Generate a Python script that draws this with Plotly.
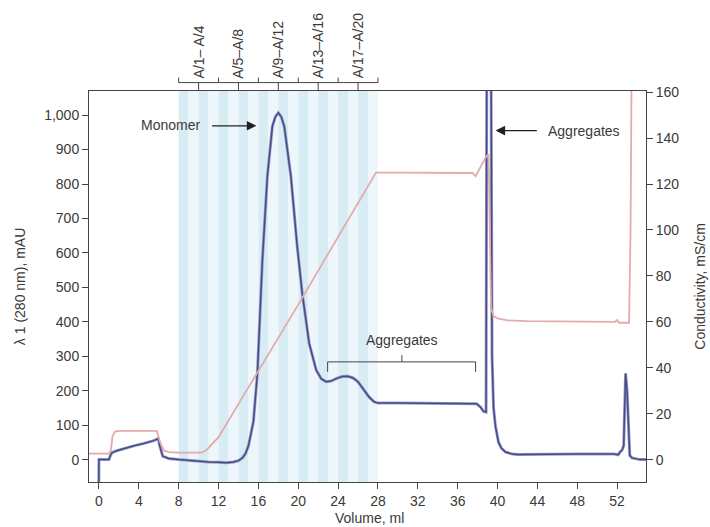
import plotly.graph_objects as go

# ---------------- data ----------------
uv_x = [-0.05, 0.0, 0.3, 1.0, 1.15, 1.3, 1.7, 2.5, 3.5, 4.5, 5.5, 5.95, 6.1, 6.4, 7.0,
        8.0, 9.0, 10.0, 11.0, 12.0, 12.8, 13.5, 14.0, 14.4, 14.7, 15.0, 15.3, 15.5,
        15.9, 16.4, 16.9, 17.4, 17.7, 18.0, 18.3, 18.6, 19.26, 19.9, 20.4, 21.1, 21.8,
        22.3, 22.8, 23.3, 23.8, 24.4, 25.0, 25.5, 26.0, 26.6, 27.1, 27.6, 28.0, 30.0,
        33.0, 36.0, 37.5, 37.9, 38.3, 38.6, 38.85, 38.95, 39.3, 39.45, 39.6, 39.8,
        40.1, 40.4, 40.8, 41.5, 42.0, 44.0, 48.0, 51.7, 52.1, 52.3, 52.5, 52.66,
        52.85, 53.0, 53.27, 53.5, 53.9, 54.3, 55.0]
uv_y = [-200, 0, 0, 0, 12, 20, 25, 32, 40, 47, 55, 61, 40, 10, 3,
        0, -3, -5, -7, -8, -9, -7, -3, 5, 17, 40, 85, 110,
        250, 579, 822, 967, 995, 1007, 995, 967, 822, 618, 483, 337, 260,
        235, 226, 228, 235, 241, 242, 237, 226, 203, 182, 168, 164, 164,
        164, 164, 164, 162, 152, 140, 138, 1600, 1600, 300, 150, 95,
        50, 33, 22, 16, 15, 16, 16, 16, 14, 22, 28, 40,
        250, 200, 12, 5, 2, 0, 0]

cond_x = [-1.0, 1.0, 1.2, 1.35, 1.6, 2.0, 5.8, 6.1, 6.5, 7.0, 8.0, 10.3, 10.8,
          11.3, 12.0, 20.0, 27.8, 30.0, 37.0, 37.5, 37.8, 38.1, 38.5, 38.8,
          39.1, 39.35, 39.6, 40.0, 41.0, 43.0, 51.8, 52.0, 52.2, 53.2, 53.35, 53.5]
cond_y = [2.6, 2.6, 4.0, 10.0, 12.2, 12.5, 12.5, 8.0, 4.0, 3.3, 3.0, 3.0, 4.2,
          6.5, 9.8, 67.5, 125, 125, 125, 124.8, 123.4, 126, 129.5, 131.5,
          133, 66, 62.5, 61.5, 60.6, 60.3, 60.0, 60.8, 59.6, 59.6, 100, 200]

x_ticks = [0, 4, 8, 12, 16, 20, 24, 28, 32, 36, 40, 44, 48, 52]
uv_ticks = [0, 100, 200, 300, 400, 500, 600, 700, 800, 900, 1000]
cond_ticks = [0, 20, 40, 60, 80, 100, 120, 140, 160]

fraction_start, fraction_end = 8, 28
fraction_labels = ["A/1\u2013 A/4", "A/5\u2013A/8", "A/9\u2013A/12", "A/13\u2013A/16", "A/17\u2013A/20"]
fraction_label_x = [10, 14, 18, 22, 26]
fraction_bounds = [8, 12, 16, 20, 24, 28]

# ---------------- figure ----------------
FONT = "Liberation Sans, Arial, sans-serif"
TXT = "#3a3a3a"
AX = "#444444"

fig = go.Figure()
fig.add_trace(go.Scatter(x=cond_x, y=cond_y, yaxis="y2", mode="lines",
                         line=dict(color="#e3abab", width=1.8), hoverinfo="skip",
                         showlegend=False))
fig.add_trace(go.Scatter(x=uv_x, y=uv_y, mode="lines",
                         line=dict(color="#9a9dc8", width=3.0), hoverinfo="skip",
                         showlegend=False))
fig.add_trace(go.Scatter(x=uv_x, y=uv_y, mode="lines",
                         line=dict(color="#474b88", width=1.5), hoverinfo="skip",
                         showlegend=False))

shapes = []
# fraction stripes
for i in range(fraction_end - fraction_start):
    x0 = fraction_start + i
    shapes.append(dict(type="rect", xref="x", yref="paper", x0=x0, x1=x0 + 1,
                       y0=0, y1=1, line=dict(width=0), layer="below",
                       fillcolor="#d8ecf4" if i % 2 == 0 else "#edf6fa"))
# top bracket
yb, yup = 1.0215, 1.0343
shapes.append(dict(type="line", xref="x", yref="paper", x0=fraction_bounds[0],
                   x1=fraction_bounds[-1], y0=yb, y1=yb, line=dict(color=AX, width=1)))
for b in fraction_bounds:
    shapes.append(dict(type="line", xref="x", yref="paper", x0=b, x1=b, y0=yb, y1=yup,
                       line=dict(color=AX, width=1)))
for c in fraction_label_x:
    shapes.append(dict(type="line", xref="x", yref="paper", x0=c, x1=c, y0=1.0, y1=yb,
                       line=dict(color=AX, width=1)))
# aggregates bracket (middle)
br_l, br_r, br_m = 22.95, 37.8, 30.4
br_y, br_low, br_up = 283.7, 254.6, 303
shapes += [
    dict(type="line", xref="x", yref="y", x0=br_l, x1=br_r, y0=br_y, y1=br_y, line=dict(color=AX, width=1)),
    dict(type="line", xref="x", yref="y", x0=br_l, x1=br_l, y0=br_y, y1=br_low, line=dict(color=AX, width=1)),
    dict(type="line", xref="x", yref="y", x0=br_r, x1=br_r, y0=br_y, y1=br_low, line=dict(color=AX, width=1)),
    dict(type="line", xref="x", yref="y", x0=br_m, x1=br_m, y0=br_y, y1=br_up, line=dict(color=AX, width=1)),
]

annotations = []
for lab, c in zip(fraction_labels, fraction_label_x):
    annotations.append(dict(text=lab, x=c, y=1.0274, xref="x", yref="paper",
                            textangle=-90, xanchor="center", yanchor="bottom",
                            showarrow=False, font=dict(family=FONT, size=14, color=TXT)))
annotations += [
    dict(text="Monomer", x=7.2, y=972, xref="x", yref="y", showarrow=False,
         xanchor="center", yanchor="middle", font=dict(family=FONT, size=14, color=TXT)),
    dict(text="", x=15.8, y=969, ax=11.2, ay=969, xref="x", yref="y", axref="x", ayref="y",
         showarrow=True, arrowhead=2, arrowsize=1.6, arrowwidth=1.2, arrowcolor="#222"),
    dict(text="Aggregates", x=48.7, y=955, xref="x", yref="y", showarrow=False,
         xanchor="center", yanchor="middle", font=dict(family=FONT, size=14, color=TXT)),
    dict(text="", x=39.8, y=955, ax=44.1, ay=955, xref="x", yref="y", axref="x", ayref="y",
         showarrow=True, arrowhead=2, arrowsize=1.6, arrowwidth=1.2, arrowcolor="#222"),
    dict(text="Aggregates", x=30.4, y=347, xref="x", yref="y", showarrow=False,
         xanchor="center", yanchor="middle", font=dict(family=FONT, size=14, color=TXT)),
    dict(text="\u03bb 1 (280 nm), mAU", x=-0.1245, y=0.5, xref="paper", yref="paper",
         textangle=-90, showarrow=False, xanchor="center", yanchor="middle",
         font=dict(family=FONT, size=14, color=TXT)),
    dict(text="Conductivity, mS/cm", x=1.0955, y=0.5, xref="paper", yref="paper",
         textangle=-90, showarrow=False, xanchor="center", yanchor="middle",
         font=dict(family=FONT, size=14, color=TXT)),
    dict(text="Volume, ml", x=0.504, y=-0.093, xref="paper", yref="paper",
         showarrow=False, xanchor="center", yanchor="middle",
         font=dict(family=FONT, size=14, color=TXT)),
]

fig.update_layout(
    width=710, height=527,
    margin=dict(l=89, r=64, t=91, b=45, autoexpand=False),
    paper_bgcolor="white", plot_bgcolor="white",
    font=dict(family=FONT, size=14, color=TXT),
    showlegend=False,
    shapes=shapes, annotations=annotations,
    xaxis=dict(range=[-1.0, 54.9], tickvals=x_ticks, ticks="outside", ticklen=6,
               tickcolor=AX, showline=True, linecolor=AX, linewidth=1, mirror=True,
               showgrid=False, zeroline=False, automargin=False,
               tickfont=dict(size=14, color=TXT)),
    yaxis=dict(range=[-65, 1070], tickvals=uv_ticks, tickformat=",d", ticks="outside",
               ticklen=6, tickcolor=AX, showline=True, linecolor=AX, linewidth=1,
               showgrid=False, zeroline=False, automargin=False,
               tickfont=dict(size=14, color=TXT)),
    yaxis2=dict(range=[-9.75, 160.5], tickvals=cond_ticks, overlaying="y", side="right",
                ticks="outside", ticklen=6, tickcolor=AX, showline=True, linecolor=AX,
                linewidth=1, showgrid=False, zeroline=False, automargin=False,
                tickfont=dict(size=14, color=TXT)),
)

fig.write_html("out.html", config={"displayModeBar": False},
               post_script="document.body.style.margin='0px';document.body.style.overflow='hidden';")
